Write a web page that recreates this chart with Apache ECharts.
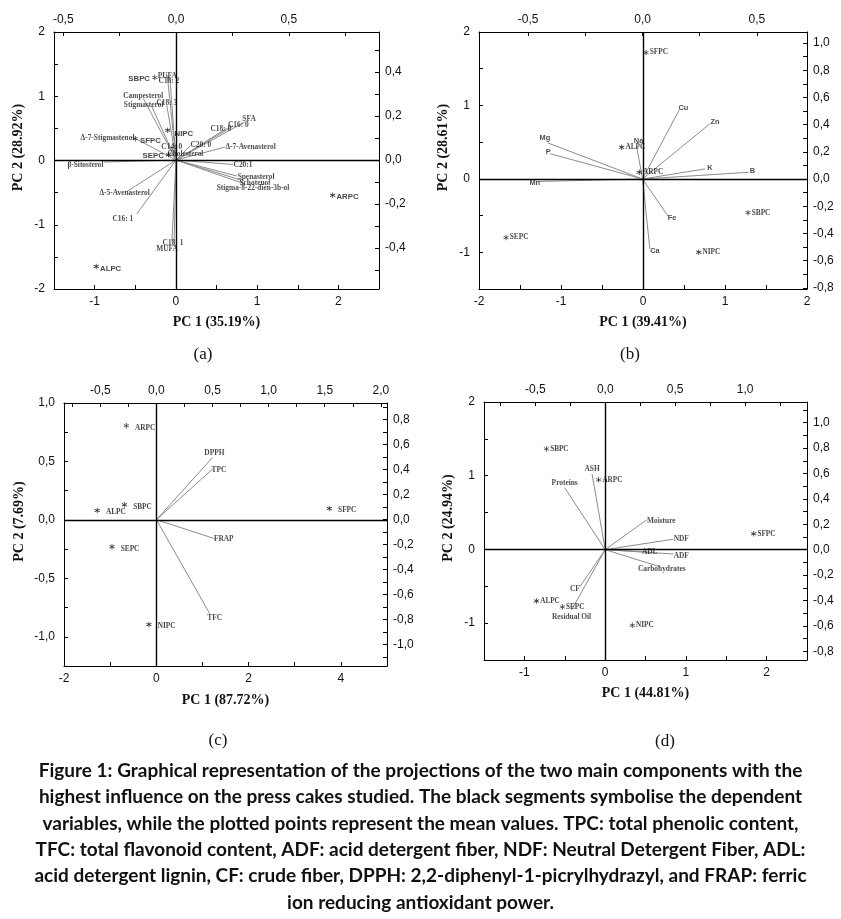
<!DOCTYPE html>
<html><head><meta charset="utf-8">
<script src="https://cdn.jsdelivr.net/npm/echarts@6/dist/echarts.min.js"></script>
<style>html,body{margin:0;padding:0;background:#fff}#c{width:841px;height:919px}</style>
</head><body><div id="c"></div>
<script>
// ---------- Panel (a) ----------
const aVarNames = ['PUFA','C18: 2','Campesterol','Stigmasterol','C18: 3','Δ-7-Stigmastenol','C14: 0','Cholesterol','C20: 0','C18: 0','C16: 0','SFA','Δ-7-Avenasterol','C20:1','Spenasterol','Schotenol','Stigma-8-22-dien-3b-ol','β-Sitosterol','Δ-5-Avenasterol','C16: 1','C18: 1','MUFA'];
const aVarPC1 = [-0.039,-0.027,-0.145,-0.108,-0.041,-0.182,-0.019,-0.027,0.062,0.225,0.254,0.306,0.217,0.253,0.271,0.288,0.306,-0.319,-0.219,-0.174,-0.018,-0.009];
const aVarPC2 = [0.386,0.371,0.280,0.245,0.250,0.099,0.060,0.036,0.064,0.144,0.155,0.174,0.059,-0.020,-0.073,-0.091,-0.109,-0.009,-0.144,-0.245,-0.364,-0.391];
const aObsNames = ['SBPC','NIPC','SFPC','SEPC','ARPC','ALPC'];
const aObsPC1 = [-0.26,-0.10,-0.50,-0.09,1.93,-0.98];
const aObsPC2 = [1.29,0.47,0.34,0.09,-0.54,-1.65];
const aXRange = [-1.5, 2.5], aYRange = [-2, 2];
const aTopRange = [-0.541, 0.90], aRightRange = [-0.586, 0.582];
const aXTicks = [-1.5,-1,-0.5,0,0.5,1,1.5,2,2.5], aXLabels = [-1,0,1,2];
const aYTicks = [-2,-1.5,-1,-0.5,0,0.5,1,1.5,2], aYLabels = [-2,-1,0,1,2];
const aTopTicks = [-0.5,-0.25,0,0.25,0.5,0.75], aTopLabels = [-0.5,0,0.5];
const aRightTicks = [-0.5,-0.4,-0.3,-0.2,-0.1,0,0.1,0.2,0.3,0.4,0.5], aRightLabels = [-0.4,-0.2,0,0.2,0.4];
const aTitles = ['PC 1 (35.19%)','PC 2 (28.92%)'];

// ---------- Panel (b) ----------
const bVarNames = ['Cu','Zn','Mg','P','Na','Mn','K','B','Fe','Ca'];
const bVarPC1 = [0.161,0.295,-0.414,-0.404,-0.026,-0.458,0.273,0.463,0.112,0.032];
const bVarPC2 = [0.510,0.407,0.265,0.186,0.240,-0.018,0.074,0.049,-0.275,-0.515];
const bObsNames = ['SFPC','ALPC','ARPC','SBPC','SEPC','NIPC'];
const bObsPC1 = [0.037,-0.26,-0.045,1.28,-1.67,0.68];
const bObsPC2 = [1.72,0.43,0.09,-0.46,-0.80,-1.00];
const bXRange = [-2, 2], bYRange = [-1.5, 2];
const bTopRange = [-0.715, 0.719], bRightRange = [-0.809, 1.081];
const bXTicks = [-2,-1.5,-1,-0.5,0,0.5,1,1.5,2], bXLabels = [-2,-1,0,1,2];
const bYTicks = [-1.5,-1,-0.5,0,0.5,1,1.5,2], bYLabels = [-1,0,1,2];
const bTopTicks = [-0.5,-0.25,0,0.25,0.5], bTopLabels = [-0.5,0,0.5];
const bRightTicks = [-0.8,-0.7,-0.6,-0.5,-0.4,-0.3,-0.2,-0.1,0,0.1,0.2,0.3,0.4,0.5,0.6,0.7,0.8,0.9,1.0], bRightLabels = [-0.8,-0.6,-0.4,-0.2,0,0.2,0.4,0.6,0.8,1.0];
const bTitles = ['PC 1 (39.41%)','PC 2 (28.61%)'];

// ---------- Panel (c) ----------
const cVarNames = ['DPPH','TPC','FRAP','TFC'];
const cVarPC1 = [0.499,0.504,0.520,0.475];
const cVarPC2 = [0.496,0.408,-0.152,-0.752];
const cObsNames = ['ARPC','SBPC','ALPC','SEPC','NIPC','SFPC'];
const cObsPC1 = [-0.65,-0.69,-1.28,-0.96,-0.16,3.75];
const cObsPC2 = [0.806,0.13,0.08,-0.23,-0.895,0.097];
const cXRange = [-2, 5], cYRange = [-1.25, 1.0];
const cTopRange = [-0.824, 2.055], cRightRange = [-1.17, 0.933];
const cXTicks = [-2,-1,0,1,2,3,4,5], cXLabels = [-2,0,2,4];
const cYTicks = [-1.25,-1,-0.75,-0.5,-0.25,0,0.25,0.5,0.75,1], cYLabels = [-1,-0.5,0,0.5,1];
const cTopTicks = [-0.75,-0.5,-0.25,0,0.25,0.5,0.75,1,1.25,1.5,1.75,2], cTopLabels = [-0.5,0,0.5,1,1.5,2];
const cRightTicks = [-1.1,-1,-0.9,-0.8,-0.7,-0.6,-0.5,-0.4,-0.3,-0.2,-0.1,0,0.1,0.2,0.3,0.4,0.5,0.6,0.7,0.8,0.9], cRightLabels = [-1,-0.8,-0.6,-0.4,-0.2,0,0.2,0.4,0.6,0.8];
const cTitles = ['PC 1 (87.72%)','PC 2 (7.69%)'];

// ---------- Panel (d) ----------
const dVarNames = ['ASH','Proteins','Moisture','NDF','ADL','ADF','Carbohydrates','CF','Residual Oil'];
const dVarPC1 = [-0.094,-0.290,0.295,0.486,0.318,0.486,0.390,-0.181,-0.241];
const dVarPC2 = [0.596,0.488,0.234,0.082,-0.020,-0.034,-0.134,-0.291,-0.475];
const dObsNames = ['SBPC','ARPC','SFPC','ALPC','SEPC','NIPC'];
const dObsPC1 = [-0.727,-0.08,1.84,-0.85,-0.53,0.336];
const dObsPC2 = [1.364,0.944,0.213,-0.70,-0.78,-1.03];
const dXRange = [-1.5, 2.5], dYRange = [-1.5, 2];
const dTopRange = [-0.867, 1.443], dRightRange = [-0.869, 1.163];
const dXTicks = [-1.5,-1,-0.5,0,0.5,1,1.5,2,2.5], dXLabels = [-1,0,1,2];
const dYTicks = [-1.5,-1,-0.5,0,0.5,1,1.5,2], dYLabels = [-1,0,1,2];
const dTopTicks = [-0.75,-0.5,-0.25,0,0.25,0.5,0.75,1,1.25], dTopLabels = [-0.5,0,0.5,1];
const dRightTicks = [-0.8,-0.7,-0.6,-0.5,-0.4,-0.3,-0.2,-0.1,0,0.1,0.2,0.3,0.4,0.5,0.6,0.7,0.8,0.9,1.0,1.1], dRightLabels = [-0.8,-0.6,-0.4,-0.2,0,0.2,0.4,0.6,0.8,1.0];
const dTitles = ['PC 1 (44.81%)','PC 2 (24.94%)'];

const captionLines = [
  'Figure 1: Graphical representation of the projections of the two main components with the',
  'highest influence on the press cakes studied. The black segments symbolise the dependent',
  'variables, while the plotted points represent the mean values. TPC: total phenolic content,',
  'TFC: total flavonoid content, ADF: acid detergent fiber, NDF: Neutral Detergent Fiber, ADL:',
  'acid detergent lignin, CF: crude fiber, DPPH: 2,2-diphenyl-1-picrylhydrazyl, and FRAP: ferric',
  'ion reducing antioxidant power.'
];
const panelLetters = ['(a)','(b)','(c)','(d)'];

// ---------- styling (label placement per name) ----------
const aVarLab = {'PUFA':['inside',0,1],'C18: 2':['inside',-1,3],'Campesterol':['inside',0,-2],'Stigmasterol':['inside',-8,-1],'C18: 3':['inside',0,-2],
 'Δ-7-Stigmastenol':['left',0,0],'C14: 0':['inside',0,0],'Cholesterol':['right',-3,2],'C20: 0':['right',0,-1],'C18: 0':['inside',-6,1],'C16: 0':['inside',5,-1],
 'SFA':['inside',4,-3],'Δ-7-Avenasterol':['right',0,0],'C20:1':['right',0,1],'Spenasterol':['right',0,1],'Schotenol':['right',-2,3],'Stigma-8-22-dien-3b-ol':['inside',8,4],
 'β-Sitosterol':['left',0,3],'Δ-5-Avenasterol':['inside',-2,1],'C16: 1':['inside',-14,5],'C18: 1':['inside',1,3],'MUFA':['inside',-7,3]};
const aObsLab = {'SBPC':['left',2,1],'NIPC':['right',4,4],'SFPC':['right',2,2],'SEPC':['left',2,1],'ARPC':['right',1,2],'ALPC':['right',1,2]};
const bVarLab = {'Cu':['inside',4,-2],'Zn':['inside',5,-2],'Mg':['inside',-3,-5],'P':['inside',-2,-2],'Na':['inside',2,-5],'Mn':['inside',-3,2],'K':['inside',5,-1],'B':['inside',4,-1],'Fe':['inside',4,2],'Ca':['inside',5,2]};
const cVarLab = {'DPPH':['inside',2,-5],'TPC':['inside',6,1],'FRAP':['inside',9,0],'TFC':['inside',5,4]};
const dVarLab = {'ASH':['inside',0,-5],'Proteins':['inside',0,-5],'Moisture':['right',0,1],'NDF':['right',0,0],'ADL':['inside',0,0],'ADF':['right',0,2],'Carbohydrates':['inside',2,2],'CF':['inside',-5,2],'Residual Oil':['inside',0,7]};

const SERIF = "'Liberation Serif','Times New Roman',serif";
const SANS = "'Liberation Sans',Arial,sans-serif";

function asteriskPath(){
  const parts=[]; const w=1.3, L=5;
  [90,30,-30].forEach(deg=>{
    const a=deg*Math.PI/180, ux=Math.cos(a), uy=Math.sin(a), px=-uy*w/2, py=ux*w/2;
    const pts=[[5+ux*L+px,5+uy*L+py],[5-ux*L+px,5-uy*L+py],[5-ux*L-px,5-uy*L-py],[5+ux*L-px,5+uy*L-py]];
    parts.push('M'+pts.map(p=>p[0].toFixed(3)+','+p[1].toFixed(3)).join('L')+'Z');
  });
  return 'path://'+parts.join('');
}
const STAR = asteriskPath();

const fmtInt = v => String(Math.round(v));
const fmt1 = v => (Math.abs(v)<1e-9?0:v).toFixed(1).replace('.', ',');

const grids = [
  {left:54, top:32, width:325, height:257},
  {left:479, top:32, width:328, height:257},
  {left:64, top:403, width:323, height:263},
  {left:484, top:402, width:323, height:258}
];

const panels = [
  {vN:aVarNames,v1:aVarPC1,v2:aVarPC2,oN:aObsNames,o1:aObsPC1,o2:aObsPC2,xr:aXRange,yr:aYRange,tr:aTopRange,rr:aRightRange,
   xt:aXTicks,xl:aXLabels,yt:aYTicks,yl:aYLabels,tt:aTopTicks,tl:aTopLabels,rt:aRightTicks,rl:aRightLabels,titles:aTitles,
   vLab:aVarLab,oLab:aObsLab,vFont:SERIF,oFont:SANS,oSize:7.8,yFmt:fmtInt,yGap:29,xGap:26},
  {vN:bVarNames,v1:bVarPC1,v2:bVarPC2,oN:bObsNames,o1:bObsPC1,o2:bObsPC2,xr:bXRange,yr:bYRange,tr:bTopRange,rr:bRightRange,
   xt:bXTicks,xl:bXLabels,yt:bYTicks,yl:bYLabels,tt:bTopTicks,tl:bTopLabels,rt:bRightTicks,rl:bRightLabels,titles:bTitles,
   vLab:bVarLab,oLab:null,vFont:SANS,oFont:SERIF,oSize:7.3,oDist:1,yFmt:fmtInt,yGap:29,xGap:26},
  {vN:cVarNames,v1:cVarPC1,v2:cVarPC2,oN:cObsNames,o1:cObsPC1,o2:cObsPC2,xr:cXRange,yr:cYRange,tr:cTopRange,rr:cRightRange,
   xt:cXTicks,xl:cXLabels,yt:cYTicks,yl:cYLabels,tt:cTopTicks,tl:cTopLabels,rt:cRightTicks,rl:cRightLabels,titles:cTitles,
   vLab:cVarLab,oLab:null,vFont:SERIF,oFont:SERIF,oSize:7.3,oDist:6,oDy:2,yFmt:fmt1,yGap:38,xGap:27},
  {vN:dVarNames,v1:dVarPC1,v2:dVarPC2,oN:dObsNames,o1:dObsPC1,o2:dObsPC2,xr:dXRange,yr:dYRange,tr:dTopRange,rr:dRightRange,
   xt:dXTicks,xl:dXLabels,yt:dYTicks,yl:dYLabels,tt:dTopTicks,tl:dTopLabels,rt:dRightTicks,rl:dRightLabels,titles:dTitles,
   vLab:dVarLab,oLab:null,vFont:SERIF,oFont:SERIF,oSize:7.2,oDist:1,yFmt:fmtInt,yGap:29,xGap:26}
];

function mkAxis(g,pos,range,ticks,labels,fmt,margin,name,gap,isY){
  const ax = {
    type:'value', gridIndex:g, position:pos, min:range[0], max:range[1],
    axisLine:{show:true,onZero:false,lineStyle:{color:'#000',width:1}},
    axisTick:{show:true,inside:true,length:4,customValues:ticks,lineStyle:{color:'#000',width:1}},
    minorTick:{show:false},
    axisLabel:{show:true,customValues:labels,formatter:fmt,margin:margin,fontFamily:SANS,fontSize:12,color:'#111',hideOverlap:false},
    splitLine:{show:false}, splitArea:{show:false}
  };
  if(name){
    ax.name=name; ax.nameLocation='middle'; ax.nameGap=gap;
    ax.nameTextStyle={fontFamily:SERIF,fontWeight:'bold',fontSize:14,color:'#111'};
    if(isY){ ax.nameTextStyle.padding=[0,0,0,26]; }
  }
  return ax;
}

const xAxis=[], yAxis=[], series=[];
panels.forEach((p,i)=>{
  xAxis.push(mkAxis(i,'bottom',p.xr,p.xt,p.xl,fmtInt,7,p.titles[0],p.xGap,false));
  xAxis.push(mkAxis(i,'top',p.tr,p.tt,p.tl,fmt1,6,null));
  yAxis.push(mkAxis(i,'left',p.yr,p.yt,p.yl,p.yFmt,9,p.titles[1],p.yGap,true));
  yAxis.push(mkAxis(i,'right',p.rr,p.rt,p.rl,fmt1,6,null));
  const xs=2*i, ys=2*i;
  // vectors
  series.push({type:'lines',coordinateSystem:'cartesian2d',xAxisIndex:xs+1,yAxisIndex:ys+1,silent:true,z:3,
    lineStyle:{color:'#8c8c8c',width:1,opacity:1},
    data:p.vN.map((n,k)=>({coords:[[0,0],[p.v1[k],p.v2[k]]]}))});
  // vector labels
  series.push({type:'scatter',xAxisIndex:xs+1,yAxisIndex:ys+1,silent:true,z:4,symbolSize:1,itemStyle:{color:'rgba(0,0,0,0)'},
    data:p.vN.map((n,k)=>{
      const s=p.vLab[n]||['inside',0,0];
      return {name:n,value:[p.v1[k],p.v2[k]],label:{show:true,formatter:n,position:s[0],distance:0,offset:[s[1],s[2]],
        fontFamily:p.vFont,fontWeight:'bold',fontSize:7.4,color:'#1a1a1a'}};
    })});
  // scores
  series.push({type:'scatter',xAxisIndex:xs,yAxisIndex:ys,silent:true,z:5,symbol:STAR,symbolSize:5.5,
    itemStyle:{color:'#000'},
    data:p.oN.map((n,k)=>{
      let lab;
      if(p.oLab){ const s=p.oLab[n]; lab={position:s[0],distance:s[1],offset:[0,s[2]]}; }
      else lab={position:'right',distance:p.oDist,offset:[0,p.oDy||0]};
      return {name:n,value:[p.o1[k],p.o2[k]],label:Object.assign({show:true,formatter:n,
        fontFamily:p.oFont,fontWeight:'bold',fontSize:p.oSize,color:'#111'},lab)};
    }),
    markLine:{silent:true,symbol:['none','none'],animation:false,label:{show:false},
      lineStyle:{color:'#000',width:1.4,type:'solid'},
      data:[{xAxis:0},{yAxis:0}]}
  });
});

const graphic=[];
const letterPos=[[203,355],[630,355],[218,741],[665,742]];
panelLetters.forEach((t,i)=>graphic.push({type:'text',x:letterPos[i][0],y:letterPos[i][1],silent:true,
  style:{text:t,fontFamily:SERIF,fontSize:17,fill:'#111',align:'center',verticalAlign:'middle',textAlign:'center',textVerticalAlign:'middle'}}));
captionLines.forEach((t,i)=>graphic.push({type:'text',x:420.5,y:771+i*26.3,silent:true,
  style:{text:t,fontFamily:"Lato,'Open Sans',sans-serif",fontWeight:'bold',fontSize:19,fill:'#111',align:'center',verticalAlign:'middle',textAlign:'center',textVerticalAlign:'middle'}}));

const chart = echarts.init(document.getElementById('c'),null,{renderer:'canvas'});
chart.setOption({animation:false,backgroundColor:'#fff',
  grid:grids.map(g=>Object.assign({containLabel:false,show:false},g)),
  xAxis, yAxis, series, graphic});
</script></body></html>
